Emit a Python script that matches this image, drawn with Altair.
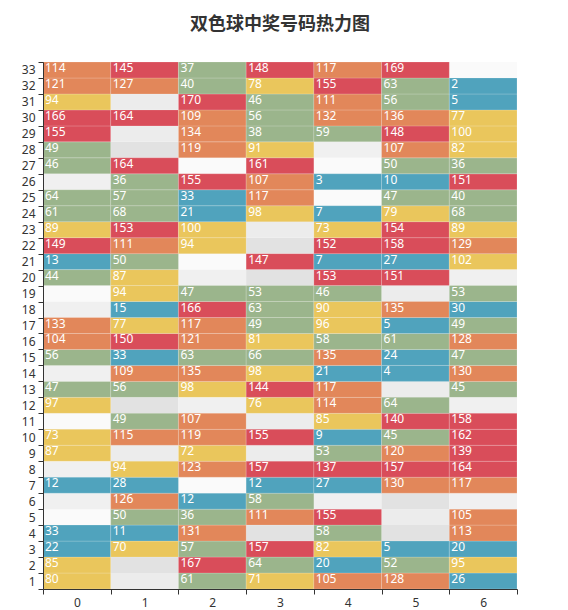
import altair as alt
import pandas as pd

x_labels = [0, 1, 2, 3, 4, 5, 6]
y_labels = list(range(1, 34))

# values per column, rows 1..33 (None = no draw)
col0 = [80, 85, 22, 33, None, None, 12, None, 87, 73, None, 97, 47, None, 56, 104, 133,
        None, None, 44, 13, 149, 89, 61, 64, None, 46, 49, 155, 166, 94, 121, 114]
col1 = [None, None, 70, 11, 50, 126, 28, 94, None, 115, 49, None, 56, 109, 33, 150, 77,
        15, 94, 87, 50, 111, 153, 68, 57, 36, 164, None, None, 164, None, 127, 145]
col2 = [61, 167, 57, 131, 36, 12, None, 123, 72, 119, 107, None, 98, 135, 63, 121, 117,
        166, 47, None, None, 94, 100, 21, 33, 155, None, 119, 134, 109, 170, 40, 37]
col3 = [71, 64, 157, None, 111, 58, 12, 157, None, 155, None, 76, 144, 98, 66, 81, 49,
        63, 53, None, 147, None, None, 98, 117, 107, 161, 91, 38, 56, 46, 78, 148]
col4 = [105, 20, 82, 58, 155, None, 27, 137, 53, 9, 85, 114, 117, 21, 135, 58, 96,
        90, 46, 153, 7, 152, 73, 7, None, 3, None, None, 59, 132, 111, 155, 117]
col5 = [128, 52, 5, None, None, None, 130, 157, 120, 45, 140, 64, None, 4, 24, 61, 5,
        135, None, 151, 27, 158, 154, 79, 47, 10, 50, 107, 148, 136, 56, 63, 169]
col6 = [26, 95, 20, 113, 105, None, 117, 164, 139, 162, 158, None, 45, 130, 47, 128, 49,
        30, 53, None, 102, 129, 89, 68, 40, 151, 36, 82, 100, 77, 5, 2, None]
columns = [col0, col1, col2, col3, col4, col5, col6]

piece_breaks = [35, 69, 103, 137]
piece_colors = ["#50a3bd", "#9bb58c", "#eac65c", "#e2875a", "#d94d5a"]

rows = []
for xi, col in zip(x_labels, columns):
    for yi, v in zip(y_labels, col):
        rows.append({"x": xi, "y": yi, "v": v})
df = pd.DataFrame(rows)

axis_common = dict(title=None, domainColor="#333", tickColor="#333", labelColor="#333",
                   labelFontSize=12, labelFont="Noto Sans", tickSize=5, grid=False,
                   tickBand="extent")

X = alt.X("x:O", sort=x_labels, axis=alt.Axis(labelAngle=0, labelPadding=3, **axis_common))
Y = alt.Y("y:O", sort="descending", axis=alt.Axis(labelPadding=3, **axis_common))

base = alt.Chart(df)

bg = base.transform_calculate(
    shade="(datum.x % 2 == 0 ? 'a' : 'c') + (datum.y % 2 == 1 ? '1' : '2')"
).mark_rect().encode(
    x=X, y=Y,
    color=alt.Color("shade:N", legend=None,
                    scale=alt.Scale(domain=["a1", "a2", "c1", "c2"],
                                    range=["#fafafa", "#f0f0f0", "#ececec", "#e2e2e2"])),
)

cells = base.transform_filter("isValid(datum.v)").mark_rect(
    stroke="white", strokeWidth=0.5, strokeOpacity=0.35
).encode(
    x=X, y=Y,
    color=alt.Color("v:Q", legend=None,
                    scale=alt.Scale(type="threshold", domain=piece_breaks, range=piece_colors)),
)

labels = base.transform_filter("isValid(datum.v)").mark_text(
    align="left", baseline="middle", dx=2, dy=-2, color="white",
    fontSize=12, font="Noto Sans"
).encode(
    x=alt.X("x:O", sort=x_labels, bandPosition=0,
            axis=alt.Axis(labelAngle=0, labelPadding=3, **axis_common)),
    y=Y,
    text=alt.Text("v:Q"),
)

chart = alt.layer(bg, cells, labels).resolve_scale(color="independent").properties(
    width=474, height=527,
    title=alt.TitleParams("双色球中奖号码热力图", fontSize=18, fontWeight="bold",
                          font="Noto Sans CJK SC", color="#333", anchor="middle", offset=22),
    padding={"left": 13, "top": 8, "right": 10, "bottom": 2},
).configure_view(stroke=None)

chart.save("out.html", embed_options={"renderer": "svg", "actions": False})
